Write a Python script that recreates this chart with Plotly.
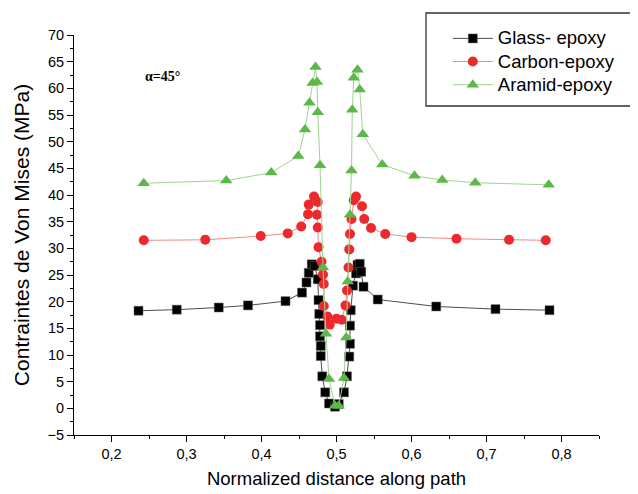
import plotly.graph_objects as go

# ---- data ----
glass_x = [0.236, 0.287, 0.343, 0.382, 0.432, 0.454, 0.460, 0.463, 0.467, 0.471, 0.475, 0.476,
           0.477, 0.478, 0.478, 0.479, 0.479, 0.481, 0.485, 0.490, 0.498, 0.503, 0.510, 0.514,
           0.517, 0.518, 0.518, 0.519, 0.522, 0.526, 0.528, 0.531, 0.533, 0.536, 0.555, 0.633,
           0.712, 0.784]
glass_y = [18.3, 18.5, 18.9, 19.3, 20.1, 21.7, 23.6, 25.4, 27.0, 26.7, 24.2, 20.3,
           17.7, 15.6, 13.5, 11.7, 9.8, 6.0, 3.0, 0.9, 0.3, 0.8, 3.0, 6.0,
           9.7, 12.1, 15.5, 18.4, 23.0, 25.3, 26.9, 27.1, 25.6, 22.8, 20.4, 19.1,
           18.6, 18.4]

carbon_x = [0.243, 0.325, 0.399, 0.435, 0.453, 0.462, 0.463, 0.470, 0.475, 0.474, 0.475, 0.476,
            0.480, 0.482, 0.483, 0.483, 0.488, 0.491, 0.500, 0.507, 0.512, 0.514, 0.516, 0.517,
            0.518, 0.520, 0.523, 0.526, 0.534, 0.537, 0.546, 0.565, 0.600, 0.660, 0.730, 0.779]
carbon_y = [31.5, 31.6, 32.3, 32.8, 34.1, 36.4, 38.2, 39.7, 38.7, 36.3, 33.9, 30.2,
            27.5, 25.1, 23.3, 19.2, 17.2, 15.7, 16.8, 16.6, 19.3, 22.1, 26.4, 29.8,
            32.7, 35.5, 39.0, 39.7, 37.9, 35.5, 33.8, 32.7, 32.1, 31.8, 31.6, 31.5]

aramid_x = [0.243, 0.353, 0.413, 0.449, 0.458, 0.464, 0.468, 0.472, 0.474, 0.475, 0.478, 0.482,
            0.486, 0.490, 0.498, 0.503, 0.510, 0.513, 0.515, 0.518, 0.520, 0.521, 0.523, 0.528,
            0.531, 0.535, 0.561, 0.604, 0.641, 0.685, 0.783]
aramid_y = [42.2, 42.7, 44.2, 47.3, 52.3, 57.3, 61.0, 64.0, 61.2, 55.5, 45.6, 26.4,
            14.0, 5.5, 0.5, 0.5, 5.7, 13.3, 23.8, 36.3, 44.6, 56.0, 62.0, 63.5,
            59.8, 51.4, 45.7, 43.6, 42.8, 42.3, 41.9]

series_names = ["Glass- epoxy", "Carbon-epoxy", "Aramid-epoxy"]

x_tick_vals = [0.2, 0.3, 0.4, 0.5, 0.6, 0.7, 0.8]
x_tick_text = ["0,2", "0,3", "0,4", "0,5", "0,6", "0,7", "0,8"]
x_minor_vals = [0.15, 0.25, 0.35, 0.45, 0.55, 0.65, 0.75, 0.85]
y_tick_vals = [-5, 0, 5, 10, 15, 20, 25, 30, 35, 40, 45, 50, 55, 60, 65, 70]
y_minor_vals = [-2.5, 2.5, 7.5, 12.5, 17.5, 22.5, 27.5, 32.5, 37.5, 42.5, 47.5, 52.5, 57.5, 62.5, 67.5]

FONT = "Liberation Sans, Arial, sans-serif"


def legend_label(s):
    # legend rows are spaced by the (smaller) legend font, text drawn larger
    return '<span style="font-size:18.5px">' + s + "</span>"


fig = go.Figure()
fig.add_trace(go.Scatter(
    x=glass_x, y=glass_y, name=legend_label(series_names[0]), mode="lines+markers",
    line=dict(color="#4d4d4d", width=1),
    marker=dict(symbol="square", size=9, color="#000000", line=dict(color="#666666", width=0.5))))
fig.add_trace(go.Scatter(
    x=carbon_x, y=carbon_y, name=legend_label(series_names[1]), mode="lines+markers",
    line=dict(color="#f08a8a", width=1),
    marker=dict(symbol="circle", size=10, color="#ec2a2e")))
fig.add_trace(go.Scatter(
    x=aramid_x, y=aramid_y, name=legend_label(series_names[2]), mode="lines+markers",
    line=dict(color="#9fd58f", width=1),
    marker=dict(symbol="triangle-up", size=11, color="#5cb848")))

fig.update_layout(
    width=638, height=494,
    margin=dict(l=66, r=47, t=27, b=67, autoexpand=False),
    paper_bgcolor="white", plot_bgcolor="white",
    font=dict(family=FONT, color="black", size=14),
    showlegend=True,
    legend=dict(
        x=0.712, y=1.033, xanchor="left", yanchor="top",
        bgcolor="rgba(0,0,0,0)", borderwidth=0,
        font=dict(family=FONT, size=15.5, color="black"),
        itemwidth=40,
    ),
    shapes=[dict(type="rect", xref="paper", yref="paper",
                 x0=(418 - 66) / 525, x1=(636.5 - 66) / 525,
                 y0=(427 - 98) / 400, y1=(427 - 5) / 400,
                 line=dict(color="#333333", width=1.3), fillcolor="white", layer="below")],
    annotations=[dict(x=0.268, y=62.2, xref="x", yref="y", text="<b>α=45°</b>",
                      showarrow=False, font=dict(family="Liberation Serif, Times New Roman, serif",
                                                 size=14, color="black"))],
)

fig.update_xaxes(
    range=[0.15, 0.85], showgrid=False, zeroline=False,
    showline=True, linecolor="black", linewidth=1,
    ticks="outside", ticklen=6, tickwidth=1, tickcolor="black",
    tickmode="array", tickvals=x_tick_vals, ticktext=x_tick_text,
    tickfont=dict(size=14.5),
    minor=dict(tickmode="array", tickvals=x_minor_vals, ticks="outside", ticklen=3, tickcolor="black"),
    title=dict(text="Normalized distance along path", font=dict(size=18.5), standoff=10),
)
fig.update_yaxes(
    range=[-5, 70], showgrid=False, zeroline=False,
    showline=True, linecolor="black", linewidth=1,
    ticks="outside", ticklen=6, tickwidth=1, tickcolor="black",
    tickmode="array", tickvals=y_tick_vals,
    tickfont=dict(size=14.5),
    minor=dict(tickmode="array", tickvals=y_minor_vals, ticks="outside", ticklen=3, tickcolor="black"),
    title=dict(text="Contraintes de Von Mises (MPa)", font=dict(size=21), standoff=12),
)

fig.write_html("out.html")
